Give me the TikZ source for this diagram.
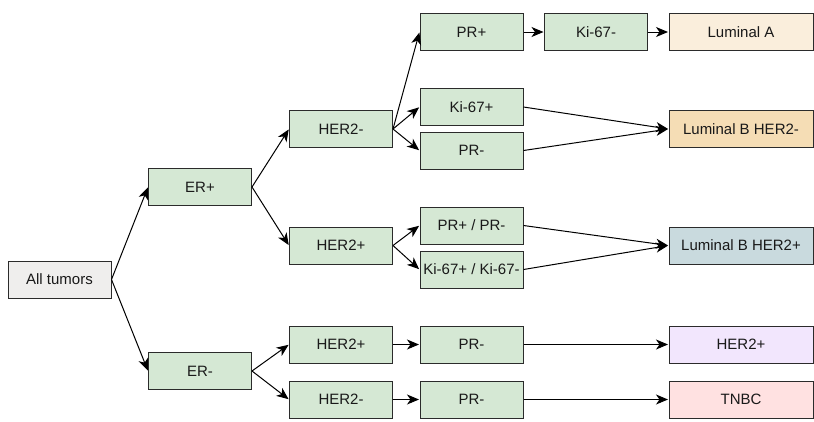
\documentclass[tikz,border=0pt]{standalone}
\usepackage{fontspec}
\setmainfont{Liberation Sans}
\usetikzlibrary{arrows.meta}
\definecolor{stepgreen}{HTML}{D5E8D4}
\definecolor{rootgray}{HTML}{EFEEED}
\definecolor{lumA}{HTML}{FAEEDC}
\definecolor{lumBneg}{HTML}{F5DDB5}
\definecolor{lumBpos}{HTML}{C9DADE}
\definecolor{hertwo}{HTML}{F2E6FD}
\definecolor{tnbc}{HTML}{FFE1E1}
\definecolor{edgegray}{HTML}{2B2B2B}
\tikzset{
  box/.style={draw=edgegray, line width=1pt, rectangle, inner sep=0pt,
    minimum height=37pt, font=\fontsize{15}{17}\selectfont, text=black!90},
  testbox/.style={box, fill=stepgreen, minimum width=103pt},
  rootbox/.style={box, fill=rootgray, minimum width=103pt},
  subtype/.style={box, minimum width=144pt},
  link/.style={draw=black, line width=1pt,
    -{Stealth[length=12pt, width=10pt, inset=3.5pt]}, shorten >=0.5pt}
}
\begin{document}
\begin{tikzpicture}[x=1pt, y=-1pt]
  \useasboundingbox (0,0) rectangle (814,421);

  % root and first split on ER status
  \node[rootbox] (all) at (59.5,279.5) {All tumors};
  \node[testbox] (erp) at (200,187) {ER+};
  \node[testbox] (erm) at (200,371) {ER-};

  % ER+ branch
  \node[testbox] (h2m) at (341,129) {HER2-};
  \node[testbox] (h2p) at (341,245.5) {HER2+};
  \node[testbox] (prp) at (471.5,32) {PR+};
  \node[testbox] (kim) at (596,32) {Ki-67-};
  \node[testbox] (kip) at (471.5,107) {Ki-67+};
  \node[testbox] (prmA) at (471.5,150.5) {PR-};
  \node[testbox] (prpm) at (471.5,225.5) {PR+ / PR-};
  \node[testbox] (kipm) at (471.5,269.5) {Ki-67+ / Ki-67-};

  % ER- branch
  \node[testbox] (h2pB) at (341,344.5) {HER2+};
  \node[testbox] (h2mB) at (341,399.5) {HER2-};
  \node[testbox] (prmB) at (471.5,344.5) {PR-};
  \node[testbox] (prmC) at (471.5,399.5) {PR-};

  % resulting subtypes
  \node[subtype, fill=lumA] (luma) at (741,32) {Luminal A};
  \node[subtype, fill=lumBneg] (lumbn) at (741,129) {Luminal B HER2-};
  \node[subtype, fill=lumBpos] (lumbp) at (741,245.5) {Luminal B HER2+};
  \node[subtype, fill=hertwo] (her) at (741,344.5) {HER2+};
  \node[subtype, fill=tnbc] (tn) at (741,399.5) {TNBC};

  % connectors
  \foreach \a/\b in {all/erp, all/erm, erp/h2m, erp/h2p, erm/h2pB, erm/h2mB,
      h2m/prp, h2m/kip, h2m/prmA, prp/kim, kim/luma, kip/lumbn, prmA/lumbn,
      h2p/prpm, h2p/kipm, prpm/lumbp, kipm/lumbp,
      h2pB/prmB, prmB/her, h2mB/prmC, prmC/tn}
    \draw[link] (\a.east) -- (\b.west);
\end{tikzpicture}
\end{document}
